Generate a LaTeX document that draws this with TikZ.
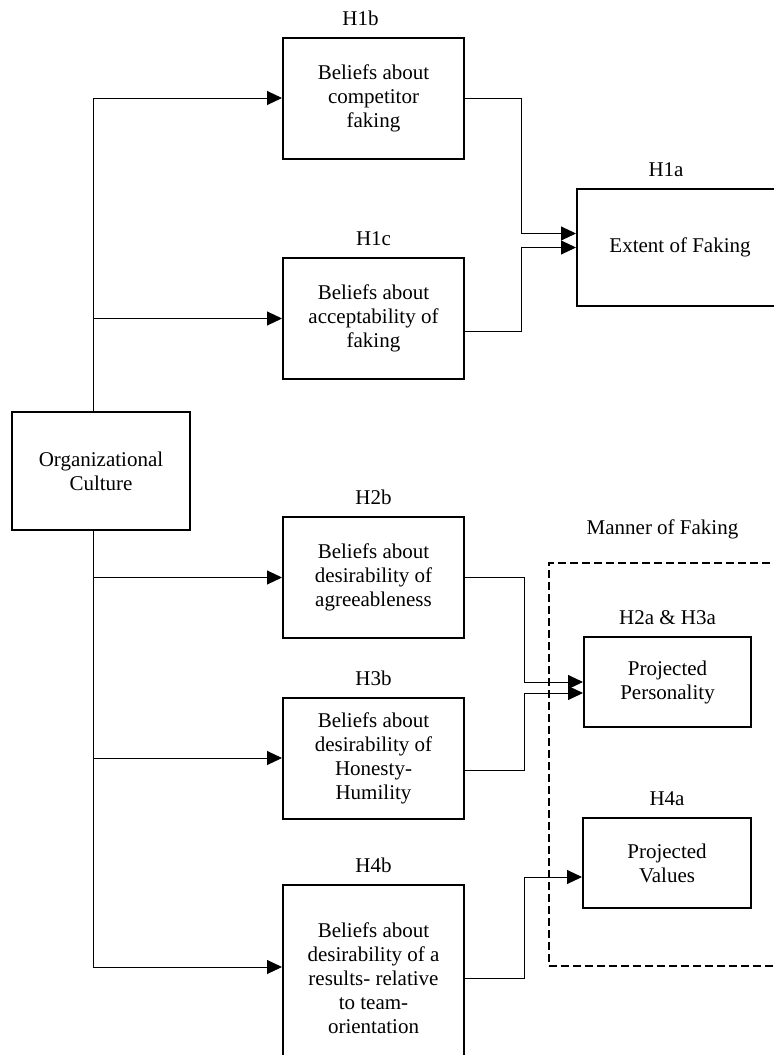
\documentclass[tikz,border=0pt]{standalone}
\usepackage{fontspec}
\setmainfont{Liberation Serif}
\usetikzlibrary{arrows.meta,positioning}

\begin{document}
\begin{tikzpicture}[
x=0.5pt,y=-0.5pt,
font=\fontsize{10.5}{12}\selectfont,
box/.style={
  draw,
  line width=1pt,
  align=center,
  inner sep=2pt,
  minimum width=90.5pt,
  minimum height=60.5pt
},
hyp/.style={
  label distance=2pt
},
conn/.style={
  line width=0.5pt,
  -{Triangle[length=7.5pt,width=7pt]}
}
]
\useasboundingbox (0,0) rectangle (774,1055);

% group of manner outcomes
\node[draw,dashed,line width=1pt,dash pattern=on 4pt off 2pt,
  minimum width=125.5pt,minimum height=201.5pt,
  label={[xshift=-6pt,label distance=8pt]above:Manner of Faking}]
  (manner) at (674.5,764.5) {};

\node[box,minimum width=89pt,minimum height=59pt] (org) at (101,471)
  {Organizational\\Culture};

\node[box,label={[hyp,xshift=-6.5pt]above:H1b}] (h1b) at (373.5,98)
  {Beliefs about\\competitor\\faking};
\node[box,label={[hyp]above:H1c}] (h1c) at (373.5,318.5)
  {Beliefs about\\acceptability of\\faking};
\node[box,label={[hyp]above:H2b}] (h2b) at (373.5,577.5)
  {Beliefs about\\desirability of\\agreeableness};
\node[box,label={[hyp]above:H3b}] (h3b) at (373.5,758)
  {Beliefs about\\desirability of\\Honesty-\\Humility};
\node[box,minimum height=93pt,label={[hyp]above:H4b}] (h4b) at (373.5,978)
  {Beliefs about\\desirability of a\\results- relative\\to team-\\orientation};

\node[box,minimum width=103pt,minimum height=58.5pt,
  label={[hyp,xshift=-7pt]above:H1a}] (h1a) at (680,247.5)
  {Extent of Faking};
\node[box,minimum width=83.5pt,minimum height=45pt,
  label={[hyp]above:H2a \& H3a}] (pp) at (667.5,682)
  {Projected\\Personality};
\node[box,minimum width=84pt,minimum height=45pt,
  label={[hyp]above:H4a}] (pv) at (667,863)
  {Projected\\Values};

% trunk and merge lines
\coordinate (trunk) at (93,0);
\coordinate (mergeA) at (521,0);
\coordinate (mergeB) at (524.5,0);

\draw[conn] (org.north -| trunk) |- (h1b.west);
\draw[conn] (org.north -| trunk) |- (h1c.west);
\draw[conn] (org.south -| trunk) |- (h2b.west);
\draw[conn] (org.south -| trunk) |- (h3b.west);
\draw[conn] (org.south -| trunk) |- ([yshift=5.5pt]h4b.west);

\coordinate (h1cout) at ([yshift=-6.5pt]h1c.east);
\coordinate (h3bout) at ([yshift=-6pt]h3b.east);

\draw[conn] (h1b.east) -- (h1b.east -| mergeA) |- ([yshift=7pt]h1a.west);
\draw[conn] (h1cout) -- (h1cout -| mergeA) |- (h1a.west);
\draw[conn] (h2b.east) -- (h2b.east -| mergeB) |- (pp.west);
\draw[conn] (h3bout) -- (h3bout -| mergeB) |- ([yshift=-5.5pt]pp.west);
\draw[conn] (h4b.east) -- (h4b.east -| mergeB) |- ([yshift=-7pt]pv.west);
\end{tikzpicture}
\end{document}
